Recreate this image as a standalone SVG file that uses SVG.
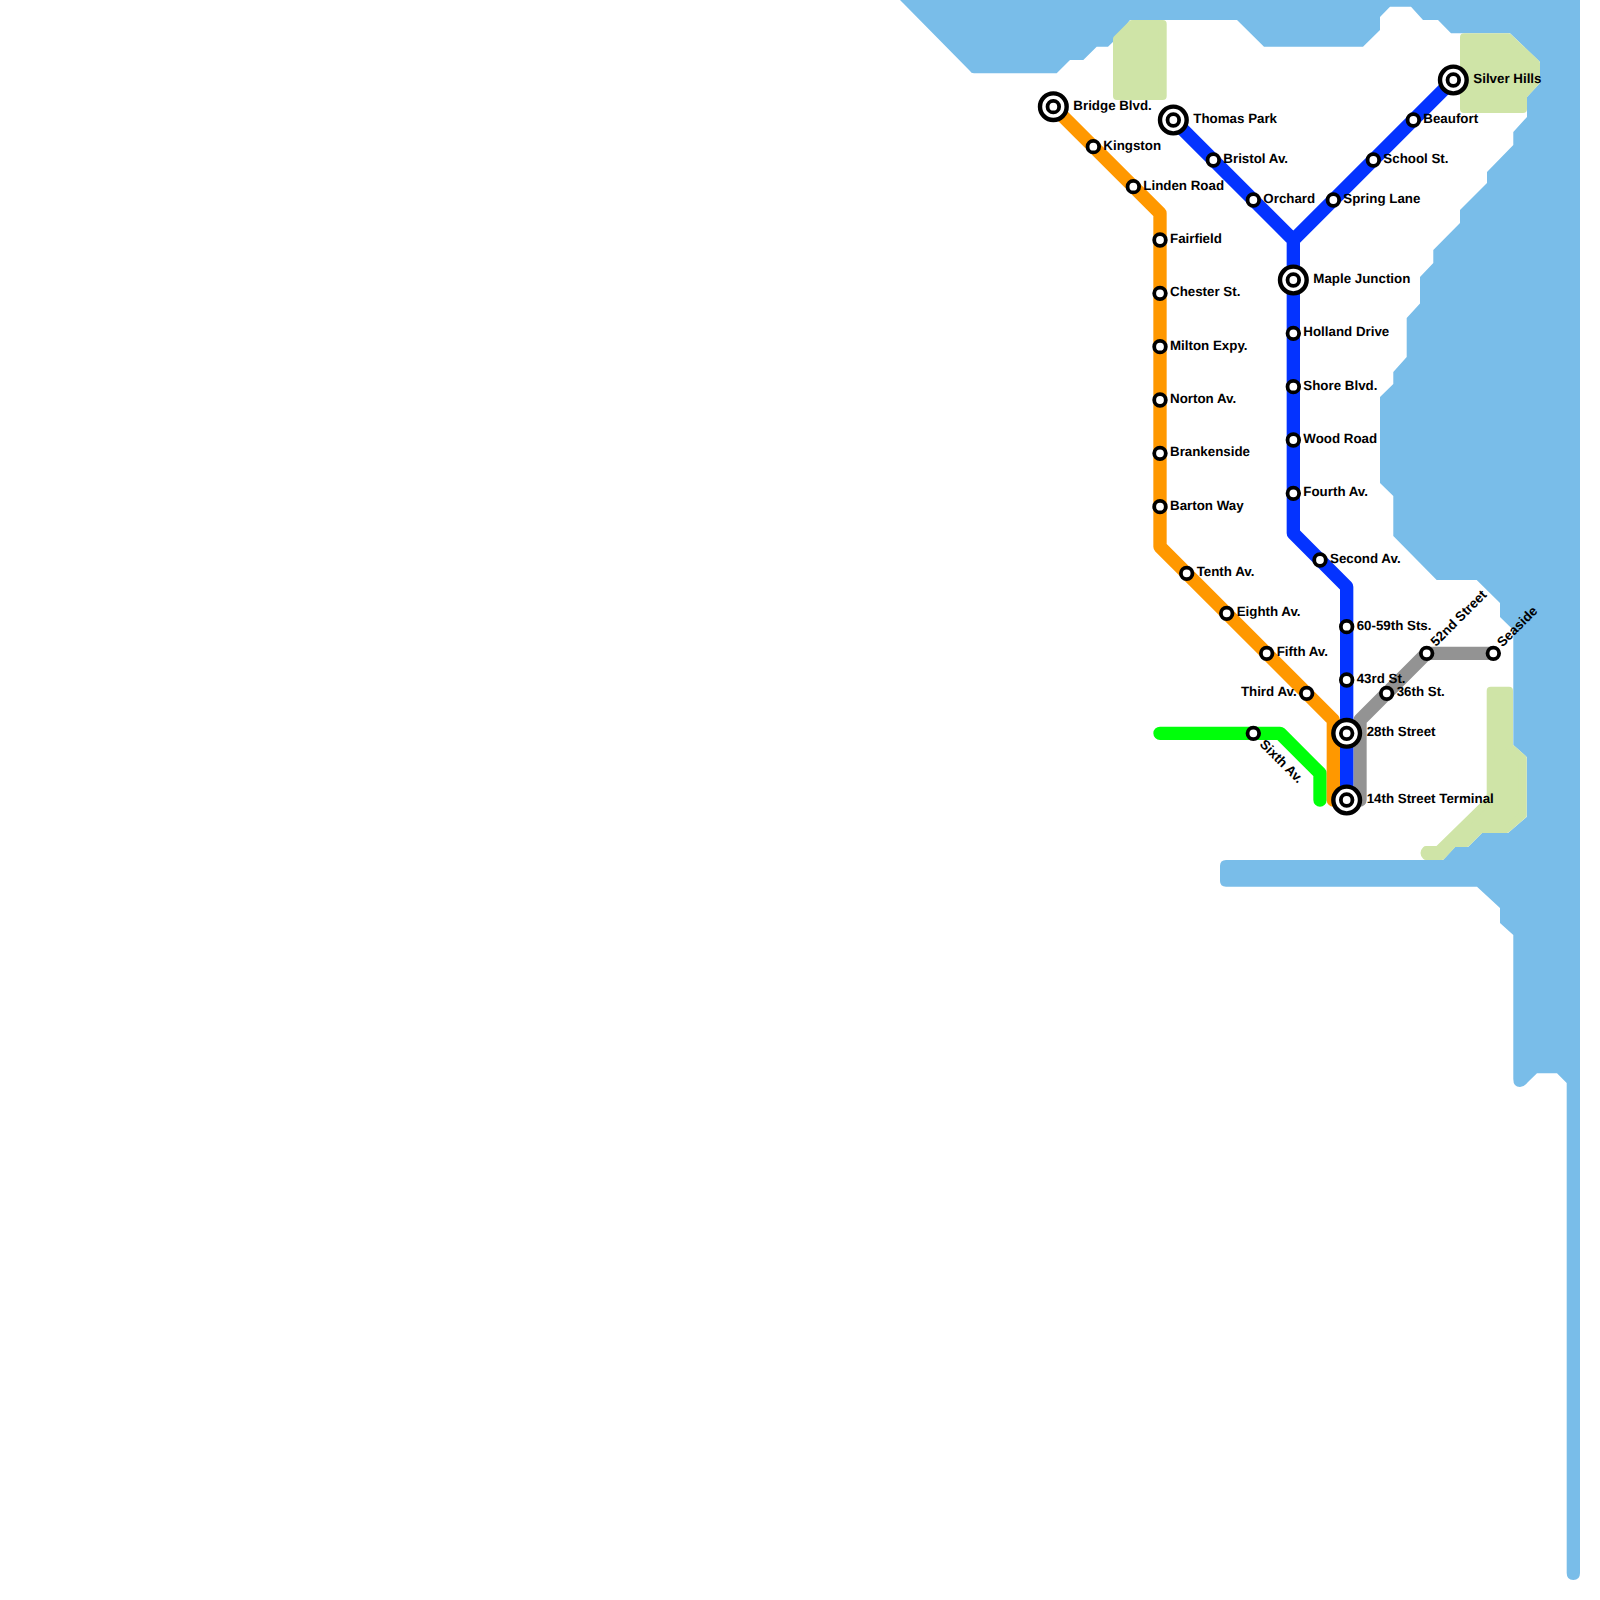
<svg xmlns="http://www.w3.org/2000/svg" width="1600" height="1600" viewBox="0 0 1600 1600">
<style>
.water{fill:#79bde9}
.park{fill:#cfe4a7;stroke:#cfe4a7;stroke-width:8;stroke-linejoin:round}
.line{fill:none;stroke-width:13.33;stroke-linecap:round;stroke-linejoin:round}
.s{fill:#fff;stroke:#000;stroke-width:3.8}
.b{fill:#fff;stroke:#000;stroke-width:4.4}
text{font-family:"Liberation Sans",Arial,sans-serif;font-size:13.33px;font-weight:bold;fill:#000;text-rendering:geometricPrecision}
</style>
<rect width="1600" height="1600" fill="#fff"/>
<g id="water">
<path class="water" d="M900 0L903 3L970 71Q971 73.3 974 73.3L1056.7 73.3L1070 60L1083.3 60L1096.7 46.7L1108 46.7L1115 40L1130 20L1237 20L1264 46.7L1363 46.7L1380 30L1380 17L1390 6.7L1411 6.7L1423 20L1438 20L1451 33.3L1510 33.3L1540 62L1540 83L1527 97L1527 117L1513.3 132L1513.3 145L1487 172L1487 183L1460 210L1460 223L1433.3 250L1433.3 263L1420 277L1420 303.5L1406.7 318L1406.7 357L1393.3 372L1393.3 384L1380 397L1380 483L1393.3 496L1393.3 536L1436.7 580L1476.7 580L1500 603L1500 617L1513.3 630L1513.3 745L1526.7 757L1526.7 817L1508 833L1482 833L1468 847L1455 847L1443 860L1226 860Q1220 860 1220 866L1220 881Q1220 886.7 1226 886.7L1477 886.7L1500 908L1500 923L1513.3 935L1513.3 1079Q1513.3 1087 1520 1087Q1524 1087 1528 1082L1537 1073.3L1557 1073.3L1566.7 1083L1566.7 1573Q1566.7 1580 1573.3 1580Q1580 1580 1580 1573L1580 0Z"/>
</g>
<g id="parks">
<path class="park" d="M1117 39L1132 24L1162.7 24L1162.7 96L1117 96Z"/>
<path class="park" d="M1464 37.3L1508.5 37.3L1536 63.5L1536 81.5L1523 95.5L1523 109L1464 109Z"/>
<path class="park" d="M1490.7 690.7L1509 690.7L1509 746.5L1522.7 758.5L1522.7 815L1506.5 829L1480.5 829L1466.5 843L1453.5 843L1441.5 856L1426 856Q1423 853 1426 850L1438 850L1483 806L1490.7 798.5Z"/>
</g>
<g id="connectors">
<path id="line-green" class="line" stroke="#00ff0a" d="M1160 733.33H1280L1320 773.33V800"/>
<path id="line-grey" class="line" stroke="#939393" d="M1493.33 653.33H1426.67L1360 720V800"/>
<path id="line-orange" class="line" stroke="#ff9800" d="M1053.33 106.67L1160 213.33V546.67L1333.33 720V800"/>
<path id="line-blue" class="line" stroke="#0433ff" d="M1173.33 120L1293.33 240V533.33L1346.67 586.67V800M1453.33 80L1293.33 240"/>
</g>
<g id="n-bridge"><circle class="b" cx="1053.33" cy="106.67" r="13.33"/><circle class="s" cx="1053.33" cy="106.67" r="5.8"/><text x="1073.33" y="109.67">Bridge Blvd.</text></g>
<g id="n-kingston"><circle class="s" cx="1093.33" cy="146.67" r="5.8"/><text x="1103.33" y="149.67">Kingston</text></g>
<g id="n-linden"><circle class="s" cx="1133.33" cy="186.67" r="5.8"/><text x="1143.33" y="189.67">Linden Road</text></g>
<g id="n-fairfield"><circle class="s" cx="1160" cy="240" r="5.8"/><text x="1170" y="243">Fairfield</text></g>
<g id="n-chester"><circle class="s" cx="1160" cy="293.33" r="5.8"/><text x="1170" y="296.33">Chester St.</text></g>
<g id="n-milton"><circle class="s" cx="1160" cy="346.67" r="5.8"/><text x="1170" y="349.67">Milton Expy.</text></g>
<g id="n-norton"><circle class="s" cx="1160" cy="400" r="5.8"/><text x="1170" y="403">Norton Av.</text></g>
<g id="n-brankenside"><circle class="s" cx="1160" cy="453.33" r="5.8"/><text x="1170" y="456.33">Brankenside</text></g>
<g id="n-barton"><circle class="s" cx="1160" cy="506.67" r="5.8"/><text x="1170" y="509.67">Barton Way</text></g>
<g id="n-tenth"><circle class="s" cx="1186.67" cy="573.33" r="5.8"/><text x="1196.67" y="576.33">Tenth Av.</text></g>
<g id="n-eighth"><circle class="s" cx="1226.67" cy="613.33" r="5.8"/><text x="1236.67" y="616.33">Eighth Av.</text></g>
<g id="n-fifth"><circle class="s" cx="1266.67" cy="653.33" r="5.8"/><text x="1276.67" y="656.33">Fifth Av.</text></g>
<g id="n-third"><circle class="s" cx="1306.67" cy="693.33" r="5.8"/><text x="1296.67" y="696.33" text-anchor="end">Third Av.</text></g>
<g id="n-sixth"><circle class="s" cx="1253.33" cy="733.33" r="5.8"/><text transform="translate(1259 745) rotate(45)">Sixth Av.</text></g>
<g id="n-thomas"><circle class="b" cx="1173.33" cy="120" r="13.33"/><circle class="s" cx="1173.33" cy="120" r="5.8"/><text x="1193.33" y="123">Thomas Park</text></g>
<g id="n-bristol"><circle class="s" cx="1213.33" cy="160" r="5.8"/><text x="1223.33" y="163">Bristol Av.</text></g>
<g id="n-orchard"><circle class="s" cx="1253.33" cy="200" r="5.8"/><text x="1263.33" y="203">Orchard</text></g>
<g id="n-spring"><circle class="s" cx="1333.33" cy="200" r="5.8"/><text x="1343.33" y="203">Spring Lane</text></g>
<g id="n-school"><circle class="s" cx="1373.33" cy="160" r="5.8"/><text x="1383.33" y="163">School St.</text></g>
<g id="n-beaufort"><circle class="s" cx="1413.33" cy="120" r="5.8"/><text x="1423.33" y="123">Beaufort</text></g>
<g id="n-silver"><circle class="b" cx="1453.33" cy="80" r="13.33"/><circle class="s" cx="1453.33" cy="80" r="5.8"/><text x="1473.33" y="83">Silver Hills</text></g>
<g id="n-maple"><circle class="b" cx="1293.33" cy="280" r="13.33"/><circle class="s" cx="1293.33" cy="280" r="5.8"/><text x="1313.33" y="283">Maple Junction</text></g>
<g id="n-holland"><circle class="s" cx="1293.33" cy="333.33" r="5.8"/><text x="1303.33" y="336.33">Holland Drive</text></g>
<g id="n-shore"><circle class="s" cx="1293.33" cy="386.67" r="5.8"/><text x="1303.33" y="389.67">Shore Blvd.</text></g>
<g id="n-wood"><circle class="s" cx="1293.33" cy="440" r="5.8"/><text x="1303.33" y="443">Wood Road</text></g>
<g id="n-fourth"><circle class="s" cx="1293.33" cy="493.33" r="5.8"/><text x="1303.33" y="496.33">Fourth Av.</text></g>
<g id="n-second"><circle class="s" cx="1320" cy="560" r="5.8"/><text x="1330" y="563">Second Av.</text></g>
<g id="n-60"><circle class="s" cx="1346.67" cy="626.67" r="5.8"/><text x="1356.67" y="629.67">60-59th Sts.</text></g>
<g id="n-43"><circle class="s" cx="1346.67" cy="680" r="5.8"/><text x="1356.67" y="683">43rd St.</text></g>
<g id="n-36"><circle class="s" cx="1386.67" cy="693.33" r="5.8"/><text x="1396.67" y="696.33">36th St.</text></g>
<g id="n-52"><circle class="s" cx="1426.67" cy="653.33" r="5.8"/><text transform="translate(1436 647) rotate(-45)">52nd Street</text></g>
<g id="n-seaside"><circle class="s" cx="1493.33" cy="653.33" r="5.8"/><text transform="translate(1502.5 647.5) rotate(-45)">Seaside</text></g>
<g id="n-28"><circle class="b" cx="1346.67" cy="733.33" r="13.33"/><circle class="s" cx="1346.67" cy="733.33" r="5.8"/><text x="1366.67" y="736.33">28th Street</text></g>
<g id="n-14"><circle class="b" cx="1346.67" cy="800" r="13.33"/><circle class="s" cx="1346.67" cy="800" r="5.8"/><text x="1366.67" y="803">14th Street Terminal</text></g>
</svg>
